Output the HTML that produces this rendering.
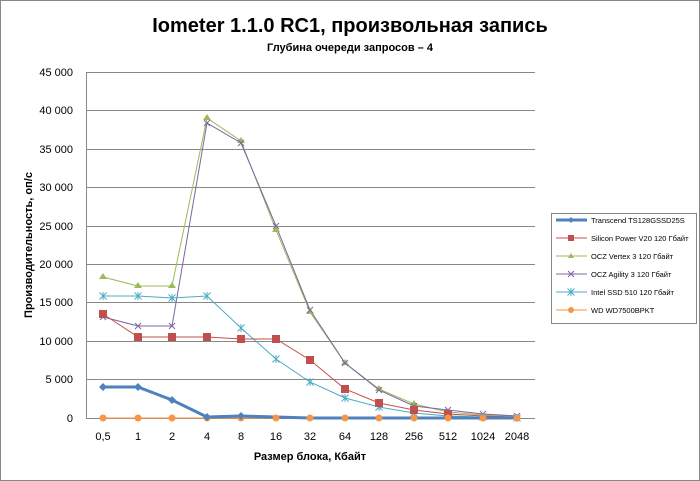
<!DOCTYPE html>
<html><head><meta charset="utf-8"><style>body{margin:0;background:#fff}svg{display:block}</style></head><body>
<svg width="700" height="481" xmlns="http://www.w3.org/2000/svg" font-family="Liberation Sans, sans-serif">
<defs>
<g id="x"><path d="M-3,-3L3,3M-3,3L3,-3" stroke="#8064a2" stroke-width="1"/></g>
<g id="s"><path d="M-3.5,-3.5L3.5,3.5M-3.5,3.5L3.5,-3.5M0,-4V4" stroke="#4bacc6" stroke-width="1"/></g>
</defs>
<rect x="0.5" y="0.5" width="699" height="480" fill="#fff" stroke="#888"/>
<text x="350" y="32" text-anchor="middle" font-size="20" font-weight="bold">Iometer 1.1.0 RC1, произвольная запись</text>
<text x="350" y="51" text-anchor="middle" font-size="11" font-weight="bold">Глубина очереди запросов – 4</text>
<g stroke="#888" stroke-width="1">
<line x1="86" y1="72.5" x2="535" y2="72.5"/><line x1="86" y1="110.5" x2="535" y2="110.5"/><line x1="86" y1="149.5" x2="535" y2="149.5"/><line x1="86" y1="187.5" x2="535" y2="187.5"/><line x1="86" y1="226.5" x2="535" y2="226.5"/><line x1="86" y1="264.5" x2="535" y2="264.5"/><line x1="86" y1="302.5" x2="535" y2="302.5"/><line x1="86" y1="341.5" x2="535" y2="341.5"/><line x1="86" y1="379.5" x2="535" y2="379.5"/><line x1="86" y1="418.5" x2="535" y2="418.5"/>
<line x1="86.5" y1="72" x2="86.5" y2="418"/>
</g>
<g font-size="11" text-anchor="end" fill="#000">
<text x="73" y="76">45 000</text><text x="73" y="114">40 000</text><text x="73" y="153">35 000</text><text x="73" y="191">30 000</text><text x="73" y="230">25 000</text><text x="73" y="268">20 000</text><text x="73" y="306">15 000</text><text x="73" y="345">10 000</text><text x="73" y="383">5 000</text><text x="73" y="422">0</text>
</g>
<g font-size="11" text-anchor="middle">
<text x="103" y="440">0,5</text><text x="138" y="440">1</text><text x="172" y="440">2</text><text x="207" y="440">4</text><text x="241" y="440">8</text><text x="276" y="440">16</text><text x="310" y="440">32</text><text x="345" y="440">64</text><text x="379" y="440">128</text><text x="414" y="440">256</text><text x="448" y="440">512</text><text x="483" y="440">1024</text><text x="517" y="440">2048</text>
</g>
<text x="310" y="460" text-anchor="middle" font-size="11" font-weight="bold">Размер блока, Кбайт</text>
<text transform="translate(32,245) rotate(-90)" text-anchor="middle" font-size="11" font-weight="bold">Производительность,  оп/с</text>
<g fill="none">
<polyline stroke="#9bbb59" points="103,277 138,286 172,286 207,118 241,141 276,230 310,312 345,363 379,389 414,404 448,412 483,415 517,416"/>
<polyline stroke="#8064a2" points="103,317 138,326 172,326 207,123 241,143 276,226 310,310 345,363 379,390 414,406 448,410 483,414 517,416"/>
<polyline stroke="#4bacc6" points="103,296 138,296 172,298 207,296 241,328 276,359 310,382 345,398 379,407 414,413 448,416 483,417 517,418"/>
<polyline stroke="#c0504d" points="103,314 138,337 172,337 207,337 241,339 276,339 310,360 345,389 379,403 414,410 448,414 483,416 517,417"/>
<polyline stroke="#f79646" points="103,418 138,418 172,418 207,418 241,418 276,418 310,418 345,418 379,418 414,418 448,418 483,418 517,418"/>
<polyline stroke="#4f81bd" stroke-width="3" points="103,387 138,387 172,400 207,417 241,416 276,417 310,418 345,418 379,418 414,418 448,418 483,418 517,418"/>
</g>
<g fill="#9bbb59"><path d="M103,273l4,6h-8z"/><path d="M138,282l4,6h-8z"/><path d="M172,282l4,6h-8z"/><path d="M207,114l4,6h-8z"/><path d="M241,137l4,6h-8z"/><path d="M276,226l4,6h-8z"/><path d="M310,308l4,6h-8z"/><path d="M345,359l4,6h-8z"/><path d="M379,385l4,6h-8z"/><path d="M414,400l4,6h-8z"/></g>
<use href="#x" x="103" y="317"/><use href="#x" x="138" y="326"/><use href="#x" x="172" y="326"/><use href="#x" x="207" y="123"/><use href="#x" x="241" y="143"/><use href="#x" x="276" y="226"/><use href="#x" x="310" y="310"/><use href="#x" x="345" y="363"/><use href="#x" x="379" y="390"/><use href="#x" x="414" y="406"/><use href="#x" x="448" y="410"/><use href="#x" x="483" y="414"/><use href="#x" x="517" y="416"/>
<use href="#s" x="103" y="296"/><use href="#s" x="138" y="296"/><use href="#s" x="172" y="298"/><use href="#s" x="207" y="296"/><use href="#s" x="241" y="328"/><use href="#s" x="276" y="359"/><use href="#s" x="310" y="382"/><use href="#s" x="345" y="398"/><use href="#s" x="379" y="407"/><use href="#s" x="414" y="413"/><use href="#s" x="448" y="416"/><use href="#s" x="483" y="417"/><use href="#s" x="517" y="418"/>
<g fill="#c0504d"><rect x="99" y="310" width="8" height="8"/><rect x="134" y="333" width="8" height="8"/><rect x="168" y="333" width="8" height="8"/><rect x="203" y="333" width="8" height="8"/><rect x="237" y="335" width="8" height="8"/><rect x="272" y="335" width="8" height="8"/><rect x="306" y="356" width="8" height="8"/><rect x="341" y="385" width="8" height="8"/><rect x="375" y="399" width="8" height="8"/><rect x="410" y="406" width="8" height="8"/><rect x="444" y="410" width="8" height="8"/></g>
<g fill="#f79646"><circle cx="103" cy="418" r="3.5"/><circle cx="138" cy="418" r="3.5"/><circle cx="172" cy="418" r="3.5"/><circle cx="207" cy="418" r="3.5"/><circle cx="241" cy="418" r="3.5"/><circle cx="276" cy="418" r="3.5"/><circle cx="310" cy="418" r="3.5"/><circle cx="345" cy="418" r="3.5"/><circle cx="379" cy="418" r="3.5"/><circle cx="414" cy="418" r="3.5"/><circle cx="448" cy="418" r="3.5"/><circle cx="483" cy="418" r="3.5"/><circle cx="517" cy="418" r="3.5"/></g>
<g fill="#4f81bd"><path d="M103,383l4,4l-4,4l-4,-4z"/><path d="M138,383l4,4l-4,4l-4,-4z"/><path d="M172,396l4,4l-4,4l-4,-4z"/><path d="M207,413l4,4l-4,4l-4,-4z"/><path d="M241,412l4,4l-4,4l-4,-4z"/></g>
<rect x="551.5" y="213.5" width="145" height="110" fill="#fff" stroke="#888"/>
<g font-size="7.5">
<line x1="556" y1="220" x2="587" y2="220" stroke="#4f81bd" stroke-width="3"/><path d="M571,217l3,3l-3,3l-3,-3z" fill="#4f81bd"/><text x="591" y="223">Transcend TS128GSSD25S</text>
<line x1="556" y1="238" x2="587" y2="238" stroke="#c0504d"/><rect x="568" y="235" width="6" height="6" fill="#c0504d"/><text x="591" y="241">Silicon Power V20 120 Гбайт</text>
<line x1="556" y1="256" x2="587" y2="256" stroke="#9bbb59"/><path d="M571,253l3,5h-6z" fill="#9bbb59"/><text x="591" y="259">OCZ Vertex 3 120 Гбайт</text>
<line x1="556" y1="274" x2="587" y2="274" stroke="#8064a2"/><use href="#x" x="571" y="274"/><text x="591" y="277">OCZ Agility 3 120 Гбайт</text>
<line x1="556" y1="292" x2="587" y2="292" stroke="#4bacc6"/><use href="#s" x="571" y="292"/><text x="591" y="295">Intel SSD 510 120 Гбайт</text>
<line x1="556" y1="310" x2="587" y2="310" stroke="#f79646"/><circle cx="571" cy="310" r="3" fill="#f79646"/><text x="591" y="313">WD WD7500BPKT</text>
</g>
</svg>
</body></html>
